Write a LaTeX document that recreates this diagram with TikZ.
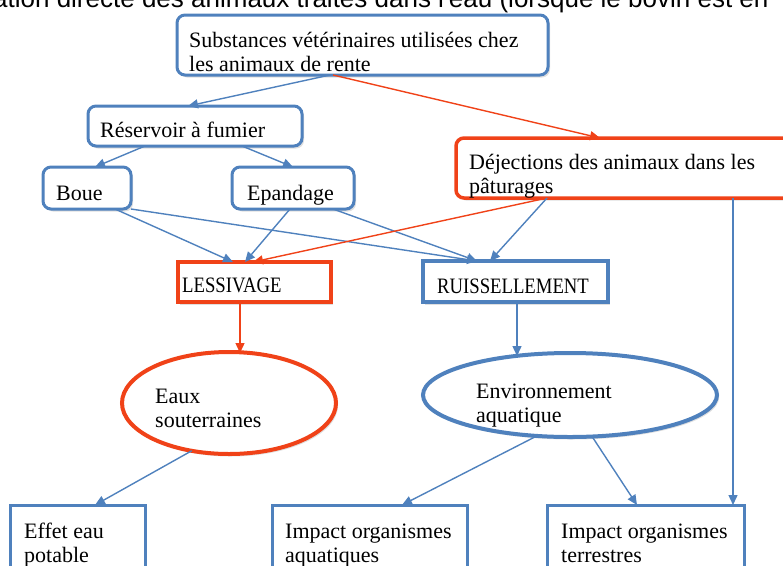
\documentclass[tikz,border=0pt]{standalone}
\usepackage{fontspec}
\setmainfont{Liberation Serif}
\newfontfamily\headfont{Liberation Sans}
\newfontfamily\capsfont[FakeStretch=0.85]{Liberation Serif}
\usetikzlibrary{arrows.meta,shapes.geometric,shadows}
\definecolor{boxblue}{RGB}{79,129,189}
\definecolor{boxred}{RGB}{240,66,24}
\tikzset{
  basebox/.style={fill=white, inner sep=0pt, outer sep=0pt,
    drop shadow={opacity=0.25, shadow xshift=2pt, shadow yshift=-2.5pt}},
  roundbox/.style={basebox, anchor=north west, rounded corners=8pt, draw=boxblue, line width=3pt},
  redroundbox/.style={basebox, anchor=north west, rounded corners=8pt, draw=boxred, line width=3.5pt},
  sqbox/.style={basebox, anchor=north west, draw=boxblue, line width=3.5pt},
  redsqbox/.style={basebox, anchor=north west, draw=boxred, line width=4pt},
  endbox/.style={fill=white, inner sep=0pt, outer sep=0pt, anchor=north west, draw=boxblue, line width=3pt},
  oval/.style={basebox, ellipse, draw=boxblue, line width=4pt},
  redoval/.style={basebox, ellipse, draw=boxred, line width=4pt},
  % multi-line labels are anchored on the baseline of their last line
  txt/.style={anchor=base west, inner sep=0pt, align=left, font=\fontsize{22}{24}\selectfont},
  captxt/.style={anchor=base west, inner sep=0pt, font=\capsfont\fontsize{22}{24}\selectfont},
  flow/.style={draw=boxblue, line width=1.4pt, -{Triangle[length=10pt,width=9pt]}},
  redflow/.style={draw=boxred, line width=1.4pt, -{Triangle[length=10pt,width=9pt]}}
}
\begin{document}
\begin{tikzpicture}[x=1pt, y=-1pt]
\useasboundingbox (0,0) rectangle (783,565);
\clip (0,0) rectangle (783,565);

% heading line, cut by the top edge
\node[anchor=base west, inner sep=0pt, font=\headfont\fontsize{26}{26}\selectfont] (head) at (-7,7)
  {ation directe des animaux traités dans l'eau (lorsque le bovin est en};

% boxes
\node[roundbox, minimum width=371pt, minimum height=60pt] (sub) at (177,15) {};
\node[roundbox, minimum width=214pt, minimum height=40pt] (res) at (88,106) {};
\node[roundbox, minimum width=88pt, minimum height=42pt] (boue) at (43,167) {};
\node[roundbox, minimum width=122pt, minimum height=42pt] (epa) at (232,167) {};
\node[redroundbox, minimum width=360pt, minimum height=60pt] (dej) at (456,138) {};
\node[redsqbox, minimum width=153pt, minimum height=40pt] (less) at (178,262) {};
\node[sqbox, minimum width=185pt, minimum height=41pt] (ruis) at (423,261) {};
\node[redoval, minimum width=214pt, minimum height=102pt] (eaux) at (229,403) {};
\node[oval, minimum width=294pt, minimum height=84pt] (env) at (570,395) {};
\node[endbox, minimum width=135pt, minimum height=100pt] (effet) at (10,505) {};
\node[endbox, minimum width=195pt, minimum height=100pt] (aq) at (272,505) {};
\node[endbox, minimum width=197pt, minimum height=100pt] (terr) at (547,505) {};

% connectors
\draw[flow] ([xshift=153pt]sub.south west) -- ([xshift=100pt]res.north west);
\draw[redflow] ([xshift=156pt]sub.south west) -- ([xshift=144pt]dej.north west);
\draw[flow] ([xshift=57pt]res.south west) -- ([xshift=52pt]boue.north west);
\draw[flow] ([xshift=154pt]res.south west) -- ([xshift=61pt]epa.north west);
\draw[flow] ([xshift=72pt]boue.south west) -- ([xshift=55pt]less.north west);
\draw[flow] (boue.south east) -- ([xshift=54pt]ruis.north west);
\draw[flow] ([xshift=58pt]epa.south west) -- ([xshift=67pt]less.north west);
\draw[flow] ([xshift=101pt]epa.south west) -- ([xshift=54pt]ruis.north west);
\draw[redflow] ([xshift=91pt]dej.south west) -- ([xshift=75pt]less.north west);
\draw[flow] ([xshift=91pt]dej.south west) -- ([xshift=67pt]ruis.north west);
\draw[flow] ([xshift=277pt]dej.south west) -- ([xshift=186pt]terr.north west);
\draw[redflow] ([xshift=62pt]less.south west) -- ([xshift=11pt,yshift=-1pt]eaux.north);
\draw[flow] ([xshift=94pt]ruis.south west) -- ([xshift=-53pt,yshift=-3pt]env.north);
\draw[flow] (eaux.-128) -- ([xshift=85pt]effet.north west);
\draw[flow] (env.-129) -- ([xshift=130pt]aq.north west);
\draw[flow] (env.-62) -- ([xshift=90pt]terr.north west);

% texts
\node[txt] (subT) at (189,71) {Substances vétérinaires utilisées chez\\les animaux de rente};
\node[txt] (resT) at (100,137) {Réservoir à fumier};
\node[txt] (boueT) at (56,200) {Boue};
\node[txt] (epaT) at (247,200) {Epandage};
\node[txt] (dejT) at (469,193) {Déjections des animaux dans les\\pâturages};
\node[captxt] (lessT) at (182,292) {LESSIVAGE};
\node[captxt] (ruisT) at (437,293) {RUISSELLEMENT};
\node[txt] (eauxT) at (155,427) {Eaux\\souterraines};
\node[txt] (envT) at (476,422) {Environnement\\aquatique};
\node[txt] (effetT) at (24,562) {Effet eau\\potable};
\node[txt] (aqT) at (285,562) {Impact organismes\\aquatiques};
\node[txt] (terrT) at (561,562) {Impact organismes\\terrestres};
\end{tikzpicture}
\end{document}
